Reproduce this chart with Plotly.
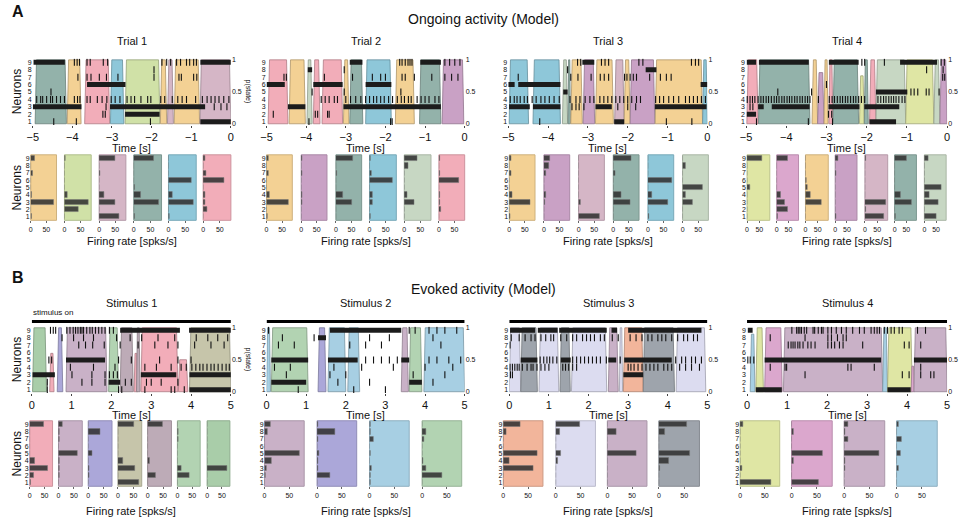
import plotly.graph_objects as go

W, H = 964, 523
FONT = "Liberation Sans, Arial, sans-serif"

# ---------------- DATA ----------------
STATE_COLORS = {
    'teal': '#93b2aa', 'orange': '#f3d194', 'green': '#d0e1a7', 'mauve': '#d5b6c6',
    'blue': '#8ec7d9', 'pink': '#f2adb9', 'purple': '#c9a1c5', 'sage': '#c7d7c3',
    'yellow': '#dfe6a4', 'magenta': '#dba7cd', 'lavender': '#aba7d9', 'lightblue': '#a7cfe3',
    'mint': '#b2d3b2', 'mint2': '#a9cda9', 'salmon': '#f2b59b', 'lilac': '#dcdcf0',
    'slate': '#9ea4ac', 'olive': '#c6c5aa', 'taupe': '#bdabb7', 'mauve2': '#c9b1c7',
}

neurons = [1, 2, 3, 4, 5, 6, 7, 8, 9]

# ---- Panel A: ongoing activity ----
trial_titles = ['Trial 1', 'Trial 2', 'Trial 3', 'Trial 4']
ongoing_window = [-5, 0]
ongoing_ticks = [-5, -4, -3, -2, -1, 0]

t1_states = [(-4.94, -4.15, 'teal'), (-4.13, -3.78, 'orange'), (-3.69, -3.06, 'pink'),
             (-3.04, -2.70, 'blue'), (-2.67, -1.79, 'green'), (-1.78, -1.62, 'orange'),
             (-1.60, -1.45, 'mauve'), (-1.43, -0.79, 'orange'), (-0.78, 0.0, 'mauve')]
t1_bursts = [(9, -4.98, -4.19), (9, -0.77, 0.0), (6, -3.63, -2.66), (3, -5.0, -3.77),
             (3, -3.05, -0.65), (2, -2.67, -1.80), (1, -0.77, 0.0)]
t1_spikes = {
    9: [-3.95, -3.88, -3.82, -3.63, -3.55, -3.22, -3.11, -1.74, -1.62, -1.52, -1.37, -1.27,
        -1.12, -1.04, -0.94, -0.87],
    8: [-1.94],
    7: [-3.86, -3.63, -3.53, -3.32, -3.14, -2.85, -1.94, -1.31, -1.25, -0.94, -0.86],
    5: [-4.54],
    4: [-4.9, -4.8, -4.75, -4.65, -4.55, -4.5, -4.4, -4.3, -4.2, -3.95, -3.87, -3.81, -3.63,
        -3.55, -3.37, -3.25, -3.13, -3.02, -2.92, -2.8, -2.62, -2.52, -2.43, -2.27, -2.1,
        -2.02, -1.77, -1.67, -1.48, -1.34, -1.23, -1.12, -0.89, -0.72, -0.6, -0.5, -0.4,
        -0.3, -0.18, -0.05],
    3: [-3.15, -0.42, -0.25, -0.1],
    2: [-3.23, -3.17],
    1: [-4.47, -3.9, -2.03],
}
t1_bar_states = ['orange', 'green', 'mauve', 'teal', 'blue', 'pink']
t1_rates = [[3, 0, 75, 4, 0, 0, 8, 0, 13],
            [1, 43, 73, 8, 0, 0, 1, 0, 2],
            [62, 1, 51, 14, 0, 0, 3, 0, 49],
            [4, 0, 74, 21, 2, 0, 0, 0, 59],
            [4, 0, 74, 13, 0, 69, 0, 0, 0],
            [0, 11, 5, 6, 0, 63, 8, 0, 6]]

t2_states = [(-4.96, -4.46, 'pink'), (-4.43, -4.02, 'orange'), (-3.98, -3.85, 'sage'),
             (-3.82, -3.65, 'pink'), (-3.6, -3.08, 'pink'), (-3.06, -2.92, 'orange'),
             (-2.9, -2.57, 'teal'), (-2.5, -1.85, 'blue'), (-1.75, -1.27, 'orange'),
             (-1.14, -0.6, 'teal'), (-0.57, -0.02, 'purple')]
t2_bursts = [(9, -2.9, -2.58), (9, -1.12, -0.6), (8, -3.96, -3.85), (6, -5.0, -4.54),
             (6, -3.82, -3.08), (6, -2.5, -1.85), (3, -4.46, -4.02), (3, -3.06, -0.6)]
t2_spikes = {
    9: [-1.64, -1.58, -1.5, -1.43, -1.38, -1.33, -0.5, -0.38, -0.25, -0.12],
    8: [-3.04],
    7: [-4.56, -4.5, -3.54, -2.83, -2.33, -2.12, -2.0, -1.58, -1.5, -1.27, -0.83, -0.5,
        -0.33, -0.17],
    5: [-3.85, -3.04, -1.61],
    4: [-3.62, -3.52, -3.42, -3.29, -3.21, -3.0, -2.88, -2.75, -2.62, -2.5, -2.4, -2.3,
        -2.22, -2.12, -2.03, -1.92, -1.82, -1.7, -1.6, -1.52, -1.42, -1.35, -1.2, -1.1,
        -1.0, -0.9, -0.75, -0.65],
    2: [-4.83, -3.77, -3.71, -3.46, -3.42],
    1: [-3.93, -1.87, -1.83],
}
t2_bar_states = ['orange', 'purple', 'teal', 'blue', 'sage', 'pink']
t2_rates = [[2, 0, 70, 10, 0, 0, 6, 0, 5],
            [1, 0, 2, 3, 0, 0, 2, 0, 4],
            [0, 0, 52, 22, 0, 0, 4, 0, 56],
            [2, 0, 8, 10, 0, 70, 5, 0, 3],
            [0, 0, 30, 8, 0, 0, 0, 12, 40],
            [0, 8, 2, 4, 0, 65, 2, 0, 2]]

t3_states = [(-4.98, -4.49, 'blue'), (-4.38, -3.69, 'blue'), (-3.64, -3.51, 'sage'),
             (-3.5, -3.44, 'teal'), (-3.43, -3.14, 'orange'), (-3.12, -2.83, 'purple'),
             (-2.81, -2.36, 'orange'), (-2.33, -2.09, 'mauve'), (-2.09, -1.94, 'orange'),
             (-1.94, -1.32, 'purple'), (-1.31, -0.12, 'orange'), (-0.12, 0.0, 'blue')]
t3_bursts = [(9, -3.14, -2.84), (8, -1.55, -1.28), (6, -5.0, -4.84), (6, -4.75, -3.69),
             (6, -0.17, 0.0), (5, -3.62, -3.51), (3, -4.98, -4.46), (3, -4.38, -3.69),
             (3, -2.81, -2.4), (3, -1.32, -0.02), (1, -2.34, -2.09)]
t3_spikes = {
    9: [-3.26, -3.18, -2.66, -2.57, -2.48, -1.72, -1.62, -0.4, -0.3, -0.22],
    8: [-3.51],
    7: [-4.75, -3.43, -3.25, -2.92, -2.69, -2.59, -2.48, -2.08, -2.02, -1.94, -1.86, -1.78,
        -1.45, -1.18, -1.03, -0.91],
    4: [-4.95, -4.85, -4.78, -4.7, -4.6, -4.52, -4.4, -4.3, -4.18, -4.08, -3.97, -3.85,
        -3.72, -3.45, -3.3, -3.2, -3.07, -2.95, -2.85, -2.7, -2.6, -2.5, -2.4, -2.3, -2.2,
        -2.1, -2.0, -1.9, -1.78, -1.68, -1.3, -1.2, -1.1, -0.97, -0.85, -0.72, -0.55, -0.45,
        -0.35, -0.25, -0.15, -0.05],
    3: [-3.4, -3.3, -3.22, -3.1, -2.25, -2.0, -1.8],
    1: [-4.21, -1.03, -0.39],
}
t3_bar_states = ['orange', 'purple', 'mauve', 'teal', 'blue', 'sage']
t3_rates = [[2, 0, 68, 10, 0, 0, 5, 0, 6],
            [1, 0, 2, 6, 0, 0, 7, 15, 20],
            [68, 0, 7, 0, 0, 0, 0, 0, 1],
            [0, 0, 54, 25, 0, 0, 5, 0, 57],
            [3, 0, 66, 13, 0, 76, 0, 0, 0],
            [0, 0, 33, 10, 65, 0, 0, 10, 0]]

t4_states = [(-4.98, -4.7, 'pink'), (-4.69, -3.41, 'teal'), (-3.36, -3.22, 'orange'),
             (-3.22, -3.06, 'purple', 0.8), (-3.06, -2.96, 'orange'), (-2.94, -2.84, 'pink'),
             (-2.84, -2.2, 'teal'), (-2.18, -2.06, 'yellow', 0.75), (-2.06, -1.96, 'teal'),
             (-1.93, -1.77, 'pink'), (-1.77, -1.03, 'sage'), (-1.03, -0.33, 'yellow'),
             (-0.33, -0.18, 'sage'), (-0.18, 0.0, 'purple')]
t4_bursts = [(9, -4.98, -4.75), (9, -4.68, -3.44), (9, -2.94, -2.2), (9, -1.17, -0.25),
             (5, -1.77, -0.99), (3, -4.7, -4.56), (3, -4.36, -3.42), (3, -2.95, -2.18),
             (3, -2.06, -1.19), (2, -4.98, -4.75), (1, -1.93, -1.27)]
t4_spikes = {
    9: [-2.12, -2.05, -1.56, -0.15, -0.07],
    8: [-0.51, -0.1],
    7: [-0.11, -0.06],
    6: [-3.0],
    5: [-4.21, -3.37, -0.9, -0.82, -0.73, -0.52, -0.45, -0.2],
    4: [-4.97, -4.9, -4.84, -4.78, -4.7, -4.63, -4.57, -4.5, -4.44, -4.37, -4.3, -4.24,
        -4.18, -4.11, -4.05, -3.98, -3.92, -3.86, -3.79, -3.73, -3.66, -3.6, -3.53, -3.47,
        -3.41, -3.2, -2.93, -2.86, -2.8, -2.73, -2.66, -2.6, -2.53, -2.47, -2.4, -2.33,
        -2.27, -2.2, -2.13, -2.05, -1.72, -1.65, -1.58, -1.52, -1.45, -1.39, -1.33, -1.27,
        -1.2, -1.12, -1.05],
    3: [-4.9, -4.83],
    2: [-2.95, -2.87],
    1: [-4.74, -3.45, -2.85],
}
t4_bar_states = ['yellow', 'magenta', 'orange', 'purple', 'mauve', 'teal', 'sage']
t4_rates = [[1, 0, 0, 0, 11, 0, 0, 2, 61],
            [4, 45, 35, 19, 0, 0, 0, 0, 49],
            [0, 0, 66, 19, 7, 4, 0, 0, 0],
            [3, 0, 0, 0, 0, 0, 4, 0, 14],
            [76, 4, 85, 0, 0, 0, 0, 0, 4],
            [4, 0, 72, 24, 0, 0, 0, 0, 51],
            [50, 0, 59, 20, 74, 0, 0, 0, 15]]

# ---- Panel B: evoked activity ----
stim_titles = ['Stimulus 1', 'Stimulus 2', 'Stimulus 3', 'Stimulus 4']
evoked_window = [0, 5]
evoked_ticks = [0, 1, 2, 3, 4, 5]
stimulus_on = [0, 5]

s1_states = [(0.02, 0.37, 'mint2'), (0.45, 0.56, 'pink', 0.6), (0.64, 0.78, 'lavender'),
             (0.86, 1.89, 'mauve2'), (1.93, 2.18, 'mint'), (2.22, 2.55, 'taupe'),
             (2.57, 2.66, 'pink', 0.6), (2.63, 2.72, 'taupe'), (2.74, 3.67, 'pink'),
             (3.68, 3.92, 'pink', 0.5), (3.96, 5.0, 'olive')]
s1_bursts = [(9, 2.22, 3.72), (9, 3.95, 5.0), (5, 0.86, 1.84), (3, 0.02, 0.58),
             (3, 2.74, 3.63), (3, 3.96, 5.0), (2, 1.93, 2.22), (1, 3.96, 5.0)]
s1_spikes = {
    9: [0.47, 0.54, 0.6, 0.88, 0.96, 1.04, 1.1, 1.16, 1.22, 1.26, 1.3, 1.38, 1.46, 1.52,
        1.6, 1.68, 1.76, 1.84, 1.95, 2.05],
    8: [0.76, 1.05, 1.3, 1.55, 2.13, 2.47, 2.76, 3.17, 3.59, 4.13, 4.42, 4.67, 4.92],
    7: [1.18, 1.35, 1.53, 1.82, 2.22, 2.67, 3.09, 3.42, 3.67, 4.09, 4.5, 4.83],
    5: [0.43, 0.5, 2.18, 2.5, 3.21, 3.67, 4.0],
    4: [0.97, 1.55, 2.09, 2.84, 3.13, 3.5, 3.75, 3.88, 4.02, 4.12, 4.22, 4.3, 4.4, 4.5,
        4.58, 4.68, 4.78, 4.88, 4.96],
    3: [1.01, 1.51, 1.84, 1.95, 2.05, 2.15],
    2: [0.39, 1.26, 1.51, 1.84, 2.35, 2.5, 2.88, 3.0, 3.25, 3.67],
    1: [0.39, 2.18, 2.26, 2.84, 3.5, 3.59, 3.83],
}
s1_bar_states = ['pink', 'mauve2', 'lavender', 'olive', 'taupe', 'mint', 'mint2']
s1_rates = [[2, 14, 61, 16, 0, 0, 0, 0, 48],
            [1, 2, 2, 3, 62, 0, 3, 4, 14],
            [0, 4, 2, 0, 12, 0, 0, 40, 0],
            [67, 0, 56, 16, 0, 0, 0, 0, 53],
            [0, 27, 0, 7, 0, 0, 0, 0, 48],
            [0, 39, 14, 0, 0, 0, 3, 4, 0],
            [0, 0, 66, 0, 0, 0, 0, 0, 0]]

s2_states = [(0.0, 0.1, 'lightblue'), (0.12, 1.05, 'mint'), (1.3, 1.5, 'lavender'),
             (1.55, 2.0, 'lightblue'), (2.05, 2.35, 'lightblue'), (3.4, 3.58, 'mauve2'),
             (3.6, 3.92, 'mint'), (3.97, 5.0, 'lightblue')]
s2_bursts = [(9, 1.6, 3.4), (8, 1.3, 1.5), (5, 0.12, 1.05), (5, 1.55, 2.3), (5, 3.4, 3.6),
             (2, 0.12, 1.0), (2, 3.6, 3.92)]
s2_spikes = {
    9: [0.05, 3.6, 3.75, 4.1, 4.3, 4.5, 4.8],
    8: [0.4, 1.2, 2.6, 3.1, 4.2],
    7: [0.3, 0.7, 2.1, 2.5, 2.9, 4.4],
    5: [2.5, 2.7, 2.9, 3.1, 3.3, 4.1, 4.3, 4.6, 4.9],
    4: [0.2, 0.6, 1.7, 2.4, 3.2, 4.0, 4.7],
    3: [0.5, 1.6, 2.0, 3.7, 4.5],
    2: [1.8, 2.6, 4.2],
    1: [0.8, 2.2, 3.0],
}
s2_bar_states = ['mauve2', 'lavender', 'lightblue', 'mint']
s2_rates = [[0, 3, 4, 15, 71, 0, 0, 6, 12],
            [0, 26, 2, 2, 4, 0, 2, 37, 3],
            [1, 2, 4, 0, 2, 0, 8, 2, 3],
            [0, 41, 9, 3, 0, 0, 4, 8, 0]]

s3_states = [(0.0, 0.29, 'lilac'), (0.29, 0.71, 'slate'), (0.75, 1.25, 'lilac'),
             (1.28, 1.54, 'slate'), (1.57, 2.46, 'lilac'), (2.5, 2.75, 'mauve2'),
             (2.78, 2.86, 'lilac'), (2.88, 3.38, 'salmon'), (3.38, 4.17, 'slate'),
             (4.21, 4.96, 'lilac')]
s3_bursts = [(9, 0.02, 0.65), (9, 0.72, 1.22), (9, 1.26, 2.46), (9, 2.58, 2.72),
             (9, 3.0, 4.85), (5, 0.29, 0.71), (5, 1.3, 1.55), (5, 2.5, 2.7), (5, 2.9, 4.1),
             (3, 2.88, 3.38)]
s3_spikes = {
    8: [0.05, 0.25, 0.4, 0.55, 0.65, 0.8, 0.92, 1.05, 1.12, 1.3, 1.45, 1.6, 1.7, 1.85,
        1.95, 2.05, 2.15, 2.3, 2.4, 2.6, 2.75, 3.05, 3.2, 3.35, 3.5, 3.6, 3.75, 3.85, 3.95,
        4.1, 4.25, 4.4, 4.5, 4.65, 4.75],
    7: [0.02],
    5: [0.78, 0.87, 0.95, 1.02, 1.1, 1.2, 1.6, 1.7, 1.8, 1.9, 2.0, 2.1, 2.2, 2.3, 2.45,
        2.8, 4.2, 4.35, 4.45, 4.6, 4.7, 4.85],
    4: [0.02, 0.08, 0.14, 0.2, 0.25, 0.33, 0.45, 0.55, 0.6, 0.7, 0.8, 0.9, 1.0, 1.35, 1.42,
        1.5, 1.6, 1.7, 3.0, 3.07, 3.15, 3.25, 3.35, 3.45, 3.55, 3.65, 3.75, 3.9, 4.0, 4.1,
        4.3, 4.45, 4.6, 4.8],
    3: [0.03, 0.08],
}
s3_bar_states = ['salmon', 'lilac', 'mauve2', 'slate']
s3_rates = [[0, 0, 60, 13, 68, 0, 0, 7, 35],
            [0, 0, 0, 4, 11, 0, 0, 9, 48],
            [0, 0, 0, 0, 59, 0, 0, 18, 0],
            [0, 0, 2, 20, 62, 0, 0, 11, 55]]

s4_states = [(0.08, 0.2, 'lightblue', 0.9), (0.22, 0.41, 'yellow'), (0.44, 0.88, 'magenta'),
             (0.91, 3.39, 'mauve2'), (3.39, 3.51, 'lightblue'), (3.51, 4.13, 'yellow'),
             (4.1, 4.18, 'magenta', 0.4), (4.17, 5.0, 'mauve2')]
s4_bursts = [(9, 0.02, 0.14), (5, 0.44, 3.35), (5, 4.17, 5.0), (1, 0.22, 0.87),
             (1, 3.51, 4.09)]
s4_spikes = {
    9: [1.12, 1.24, 1.28, 1.32, 1.36, 1.43, 1.49, 1.65, 1.69, 1.78, 1.86, 1.9, 2.02, 2.11,
        2.23, 2.36, 2.48, 2.64, 2.81, 2.93, 3.1, 3.18, 3.25, 3.31, 3.43, 3.51, 3.6, 3.68,
        3.8, 3.88, 4.26, 4.46],
    8: [0.58, 1.45, 2.02, 2.11, 2.26, 2.4, 2.48],
    7: [1.03, 1.1, 1.15, 1.2, 1.27, 1.32, 1.4, 1.52, 1.6, 1.7, 2.02, 2.11, 2.19, 2.31,
        2.4, 2.89, 3.93, 4.05, 4.34],
    5: [0.02, 0.08, 0.17],
    4: [0.58, 0.95, 0.99, 2.52, 2.6, 3.18, 4.34],
    3: [1.45, 3.88, 4.05, 4.34, 4.59, 4.67],
}
s4_bar_states = ['yellow', 'magenta', 'mauve2', 'lightblue']
s4_rates = [[63, 0, 4, 0, 0, 0, 0, 0, 6],
            [54, 0, 0, 3, 62, 0, 0, 3, 0],
            [0, 0, 2, 2, 68, 0, 7, 2, 8],
            [0, 0, 4, 0, 7, 0, 9, 0, 4]]

# ---------------- LAYOUT HELPERS ----------------
fig = go.Figure()
layout = {}
shapes = []
annotations = []
cnt = {'x': 0, 'y': 0}


def fx(p):
    return p / W


def fy(p):
    return 1 - p / H


def darker(hexc, f=0.72):
    h = hexc.lstrip('#')
    r, g, b = int(h[0:2], 16), int(h[2:4], 16), int(h[4:6], 16)
    return 'rgb(%d,%d,%d)' % (r * f, g * f, b * f)


def new_x(x0, x1, **kw):
    cnt['x'] += 1
    n = cnt['x']
    s = '' if n == 1 else str(n)
    layout['xaxis' + s] = dict(domain=[fx(x0), fx(x1)], **kw)
    return 'x' + s, 'xaxis' + s


def new_y(y0, y1, **kw):
    cnt['y'] += 1
    n = cnt['y']
    s = '' if n == 1 else str(n)
    layout['yaxis' + s] = dict(domain=[fy(y1), fy(y0)], **kw)
    return 'y' + s, 'yaxis' + s


def text(x, y, s, size=11, angle=0, anchor='center', bold=False):
    annotations.append(dict(x=fx(x), y=fy(y), xref='paper', yref='paper', text=('<b>%s</b>' % s) if bold else s,
                            showarrow=False, xanchor=anchor, yanchor='middle', textangle=angle,
                            font=dict(family=FONT, size=size, color='#111')))


def raster(x0, x1, y0, y1, window, ticks, states, bursts, spikes, left_ticks=True):
    xr, xk = new_x(x0, x1, range=window, tickvals=ticks, ticks='outside', ticklen=2,
                   tickfont=dict(family=FONT, size=11, color='#111'), showgrid=False,
                   zeroline=False, showline=False, tickcolor='#444')
    yp, ypk = new_y(y0, y1, range=[-0.02, 1.02], side='right', tickvals=[0, 0.5, 1],
                    ticktext=['0', '0.5', '1'], tickfont=dict(family=FONT, size=7, color='#111'),
                    showgrid=False, zeroline=False, showline=False, ticks='')
    layout[xk]['anchor'] = yp
    layout[ypk]['anchor'] = xr
    yn, ynk = new_y(y0, y1, range=[0.55, 9.5], overlaying=yp, side='left', tickvals=neurons,
                    tickfont=dict(family=FONT, size=7, color='#111'), showgrid=False,
                    zeroline=False, showline=False, ticks='', anchor=xr,
                    showticklabels=left_ticks)
    for st in states:
        a, b, key = st[0], st[1], st[2]
        pk = st[3] if len(st) > 3 else 1.0
        r = min(0.035, (b - a) / 4)
        fig.add_trace(go.Scatter(x=[a, a + r, b - r, b, a], y=[0, pk, pk, 0, 0], xaxis=xr, yaxis=yp,
                                 mode='lines', fill='toself', fillcolor=STATE_COLORS[key],
                                 line=dict(color=darker(STATE_COLORS[key]), width=0.8),
                                 hoverinfo='skip'))
    bx, by = [], []
    for n, a, b in bursts:
        bx += [a, b, None]
        by += [n, n, None]
    fig.add_trace(go.Scatter(x=bx, y=by, xaxis=xr, yaxis=yn, mode='lines',
                             line=dict(color='#1c1c1c', width=5), hoverinfo='skip'))
    sx, sy = [], []
    for n, ts in spikes.items():
        sx += ts
        sy += [n] * len(ts)
    fig.add_trace(go.Scatter(x=sx, y=sy, xaxis=xr, yaxis=yn, mode='markers',
                             marker=dict(symbol='line-ns', size=5, line=dict(width=1.1, color='#111')),
                             hoverinfo='skip'))
    return xr


def bars(x0, x1, y0, y1, xmax, state, rates, show_y):
    xr, xk = new_x(x0, x1, range=[0, xmax], tickvals=[0, 50], ticks='outside', ticklen=2,
                   tickfont=dict(family=FONT, size=7, color='#111'), showgrid=False, zeroline=False,
                   showline=False, tickcolor='#666')
    yr, yk = new_y(y0, y1, range=[0.5, 9.5], tickvals=neurons, ticks='', showticklabels=show_y,
                   tickfont=dict(family=FONT, size=7, color='#111'), showgrid=False, zeroline=False,
                   showline=False)
    layout[xk]['anchor'] = yr
    layout[yk]['anchor'] = xr
    col = STATE_COLORS[state]
    shapes.append(dict(type='rect', xref=xr + ' domain', yref=yr + ' domain', x0=0, x1=1, y0=0, y1=1,
                       fillcolor=col, line=dict(color=darker(col, 0.85), width=1), layer='below'))
    fig.add_trace(go.Bar(x=rates, y=neurons, orientation='h', xaxis=xr, yaxis=yr, width=0.72,
                         marker=dict(color='rgba(50,50,50,0.88)', line=dict(color='#777', width=0.5)),
                         hoverinfo='skip'))


# ---------------- BUILD ----------------
text(4, 10, 'A', size=16, anchor='left', bold=True)
text(482, 17, 'Ongoing activity (Model)', size=14)
text(4, 278, 'B', size=16, anchor='left', bold=True)
text(482, 289, 'Evoked activity (Model)', size=14)

A_rasters = [(27, 227), (263, 463), (507, 708), (747, 950)]
A_data = [(t1_states, t1_bursts, t1_spikes), (t2_states, t2_bursts, t2_spikes),
          (t3_states, t3_bursts, t3_spikes), (t4_states, t4_bursts, t4_spikes)]
A_bars = [[(25, 51), (59, 86), (94, 121), (129, 157), (164, 192), (199, 227)],
          [(263, 289), (298, 324), (333, 359), (367, 394), (402, 429), (437, 463)],
          [(508, 534), (543, 569), (578, 604), (613, 639), (648, 674), (683, 709)],
          [(748, 771), (778, 800), (807, 830), (837, 859), (867, 890), (897, 919), (927, 949)]]
A_bar_data = [(t1_bar_states, t1_rates, 83), (t2_bar_states, t2_rates, 83),
              (t3_bar_states, t3_rates, 83), (t4_bar_states, t4_rates, 93)]

for i in range(4):
    x0, x1 = A_rasters[i]
    st, bu, sp = A_data[i]
    raster(x0, x1, 57, 124, ongoing_window, ongoing_ticks, st, bu, sp)
    text((x0 + x1) / 2, 39, trial_titles[i], size=11)
    text((x0 + x1) / 2, 147, 'Time [s]', size=11)
    bst, rts, xm = A_bar_data[i]
    for j, (bx0, bx1) in enumerate(A_bars[i]):
        bars(bx0, bx1, 154, 220, xm, bst[j], rts[j], j == 0)
    text((x0 + x1) / 2, 241, 'Firing rate [spks/s]', size=11)

B_rasters = [(26, 227), (263, 463), (508, 708), (748, 950)]
B_data = [(s1_states, s1_bursts, s1_spikes), (s2_states, s2_bursts, s2_spikes),
          (s3_states, s3_bursts, s3_spikes), (s4_states, s4_bursts, s4_spikes)]
B_bars = [[(24, 47), (53, 77), (83, 107), (113, 137), (143, 167), (173, 196), (203, 226)],
          [(261, 301), (314, 354), (367, 407), (420, 460)],
          [(502, 542), (555, 595), (607, 647), (659, 700)],
          [(741, 781), (793, 834), (846, 887), (899, 940)]]
B_bar_data = [(s1_bar_states, s1_rates, 77), (s2_bar_states, s2_rates, 80),
              (s3_bar_states, s3_rates, 80), (s4_bar_states, s4_rates, 80)]

for i in range(4):
    x0, x1 = B_rasters[i]
    st, bu, sp = B_data[i]
    xr = raster(x0, x1, 327, 394, evoked_window, evoked_ticks, st, bu, sp)
    shapes.append(dict(type='line', xref=xr, yref='paper', x0=stimulus_on[0], x1=stimulus_on[1],
                       y0=fy(322), y1=fy(322), line=dict(color='#000', width=3)))
    text((x0 + x1) / 2, 303, stim_titles[i], size=11)
    text((x0 + x1) / 2, 416, 'Time [s]', size=11)
    bst, rts, xm = B_bar_data[i]
    for j, (bx0, bx1) in enumerate(B_bars[i]):
        bars(bx0, bx1, 422, 488, xm, bst[j], rts[j], j == 0)
    text((x0 + x1) / 2, 513, 'Firing rate [spks/s]', size=11)

text(25, 313, 'stimulus on', size=8, anchor='left')
text(11, 90, 'Neurons', size=12, angle=-90)
text(11, 187, 'Neurons', size=12, angle=-90)
text(11, 360, 'Neurons', size=12, angle=-90)
text(11, 455, 'Neurons', size=12, angle=-90)
text(244, 90, 'p(state)', size=7, angle=90)
text(244, 360, 'p(state)', size=7, angle=90)

fig.update_layout(width=W, height=H, margin=dict(l=0, r=0, t=0, b=0), showlegend=False,
                  paper_bgcolor='white', plot_bgcolor='white', shapes=shapes,
                  annotations=annotations, bargap=0, font=dict(family=FONT))
fig.update_layout(**layout)
fig.write_html('out.html', config={'displayModeBar': False},
               post_script="document.body.style.margin='0px';document.body.style.overflow='hidden';")
